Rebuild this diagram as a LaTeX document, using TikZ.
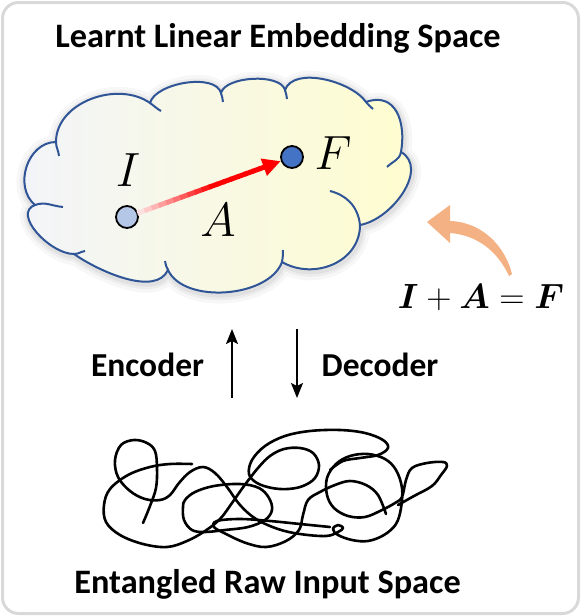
\RequirePackage{fix-cm}
\documentclass[tikz,border=0pt]{standalone}
\usepackage[no-math]{fontspec}
\setmainfont{Carlito}
\usepackage{amsmath,amssymb}
\usepackage{bm}
\usepackage{tikz}
\usetikzlibrary{calc, arrows.meta}
\usetikzlibrary{positioning}
\definecolor{frameG}{RGB}{217,217,217}
\definecolor{cloudL}{RGB}{242,244,250}
\definecolor{cloudR}{RGB}{255,253,205}
\definecolor{cloudE}{RGB}{47,85,151}
\definecolor{ptI}{RGB}{180,199,231}
\definecolor{ptF}{RGB}{68,114,196}
\definecolor{peach}{RGB}{244,177,131}
\begin{document}
\begin{tikzpicture}[x=1pt,y=1pt,
    lbl/.style={font=\fontsize{34.3}{40}\selectfont\bfseries, anchor=base},
    sym/.style={font=\fontsize{48}{56}\selectfont},
    dot/.style={circle, draw, line width=1.8pt, minimum size=22pt, inner sep=0pt},
    rim/.style={draw=cloudE, line width=2pt},
    scrib/.style={line width=2.6pt, line cap=round, line join=round}]
    \useasboundingbox (0,0) rectangle (581,-616);
    \draw[frameG, line width=3pt, rounded corners=16pt] (2.5,-2.5) rectangle (578.5,-613.5); %枠
    % 雲
    \path[preaction={draw=black, draw opacity=.03, line width=18pt, transform canvas={shift={(1pt,-2pt)}}},
          preaction={draw=black, draw opacity=.04, line width=11pt, transform canvas={shift={(1pt,-2pt)}}},
          preaction={draw=black, draw opacity=.05, line width=6pt, transform canvas={shift={(1pt,-2pt)}}},
          left color=cloudL, right color=cloudR, rim]
        (35,-205) to[out=140,in=180,looseness=1.1] (56,-142)
        to[out=90,in=145] (150,-103)
        to[out=75,in=105,looseness=.75] (221,-93)
        to[out=75,in=105,looseness=.7] (285,-90)
        to[out=70,in=125,looseness=.8] (366,-102)
        to[out=20,in=80,looseness=1.3] (401,-152)
        to[out=-30,in=10] (360,-225)
        to[out=-90,in=-30,looseness=1.1] (282,-262)
        to[out=-110,in=-65,looseness=.85] (168,-270)
        to[out=-115,in=-35,looseness=.8] (74,-254)
        to[out=180,in=200] (35,-205) -- cycle;
    \draw[rim] (56,-142) to[out=-90,in=95] (59,-156); %内側の線
    \draw[rim] (150,-103) to[out=-35,in=150] (161,-111);
    \draw[rim] (221,-93) to[out=-70,in=100] (223,-102);
    \draw[rim] (285,-90) to[out=-70,in=100] (287,-99);
    \draw[rim] (366,-102) to[out=-50,in=140] (373,-109);
    \draw[rim] (401,-152) to[out=-100,in=45] (387,-167);
    \draw[rim] (360,-225) .. controls (358,-206) and (346,-195) .. (330,-191);
    \draw[rim] (282,-262) to[out=80,in=-90] (283,-250);
    \draw[rim] (168,-270) to[out=120,in=-80] (165,-261);
    \draw[rim] (74,-254) to[out=0,in=190] (85,-251);
    \draw[rim] (35,-205) to[out=20,in=175] (63,-207);
    % 点と矢印
    \node[dot, fill=ptI] (I) at (127,-217) {};
    \node[dot, fill=ptF] (F) at (292,-157) {};
    \node[sym] (lI) at (128,-170) {$I$};
    \node[sym] (lF) at (333,-153) {$F$};
    \node[sym] (lA) at (218,-220) {$A$};
    \coordinate (as) at ($(I)!11pt!(F)$);
    \coordinate (ae) at ($(F)!12pt!(I)$);
    \foreach \k in {0,...,17}{
        \pgfmathsetmacro\p{min(100,12+88*\k/10)}
        \draw[red!\p!white, line width=5pt] ($(as)!{\k/20}!(ae)$) -- ($(as)!{(\k+1.2)/20}!(ae)$);
    }
    \draw[red, line width=5pt, -{Triangle[length=18pt,width=17pt]}] ($(as)!.88!(ae)$) -- (ae);
    % 式
    \node[font=\fontsize{35}{42}\selectfont, anchor=base] (eq) at (481,-308) {$\bm{I}+\bm{A}=\bm{F}$};
    \fill[peach] (512,-274) .. controls (505,-246) and (482,-222) .. (450,-221) -- (450,-205)
        -- (427,-222) -- (450,-243) -- (450,-233) .. controls (476,-235) and (497,-250) .. (509,-276) -- cycle;
    % エンコーダ・デコーダ
    \node[lbl] (title) at (278,-47) {Learnt Linear Embedding Space};
    \node[lbl, font=\fontsize{33.5}{40}\selectfont\bfseries] (enc) at (147.5,-376) {Encoder};
    \node[lbl, font=\fontsize{33.5}{40}\selectfont\bfseries] (dec) at (380,-376) {Decoder};
    \node[lbl] (raw) at (267.5,-593) {Entangled Raw Input Space};
    \coordinate (eb) at (232,-398);
    \coordinate (et) at (232,-329);
    \coordinate (dt) at (297,-329);
    \coordinate (db) at (297,-398);
    \draw[->,>={Stealth[length=15pt,width=12pt,inset=3pt]},line width=1.8pt] (eb) -- (et); %上
    \draw[->,>={Stealth[length=15pt,width=12pt,inset=3pt]},line width=1.8pt] (dt) -- (db); %下
    % もつれた線
    \draw[scrib] plot[smooth, tension=.6] coordinates {(143,-523) (150,-506) (156,-488) (157,-468) (155,-451)
        (147,-443) (134,-440) (121,-445) (115,-460) (118,-477) (130,-491) (145,-499) (160,-500) (170,-495)
        (179,-483) (190,-472) (203,-467) (215,-473) (227,-487) (240,-505) (256,-519) (278,-529) (300,-534)
        (326,-536) (338,-532) (343,-528) (338,-525) (333,-529) (338,-535) (352,-540) (368,-541) (384,-535)
        (396,-524) (401,-508) (402,-488) (396,-470) (385,-459) (368,-454) (350,-456) (336,-464) (327,-478)
        (327,-495) (334,-508) (348,-516) (365,-517) (382,-510) (395,-503) (402,-497) (406,-480) (412,-468)
        (427,-463) (443,-462) (447,-466) (441,-475) (432,-486) (414,-496) (398,-505)};
    \draw[scrib] plot[smooth, tension=.6] coordinates {(192,-464) (170,-464) (150,-467) (128,-475) (110,-489)
        (104,-505) (106,-522) (120,-535) (143,-544) (167,-547) (187,-541) (205,-531) (220,-519) (232,-503)
        (244,-486) (258,-468) (270,-456) (284,-449) (300,-448) (313,-453) (319,-465) (315,-478) (303,-486)
        (288,-489) (272,-488) (257,-483) (249,-474) (252,-460) (265,-446) (285,-436) (310,-431) (340,-430)
        (365,-433) (383,-440) (388,-448) (378,-455) (360,-458) (343,-461) (330,-470)};
    \draw[scrib] plot[smooth, tension=.6] coordinates {(386,-514) (378,-495) (366,-485) (350,-481) (335,-485)
        (320,-492) (308,-500) (303,-515) (299,-530) (286,-541) (266,-547) (246,-543) (226,-534) (214,-527)
        (217,-521) (240,-519) (270,-521) (300,-524) (330,-527)};
    \draw[scrib] plot[smooth cycle, tension=.6] coordinates {(183,-507) (184,-520) (192,-530) (205,-532)
        (225,-530) (248,-527) (265,-520) (272,-510) (269,-498) (259,-488) (240,-484) (214,-486) (195,-492)
        (185,-500)};
\end{tikzpicture}
\end{document}
